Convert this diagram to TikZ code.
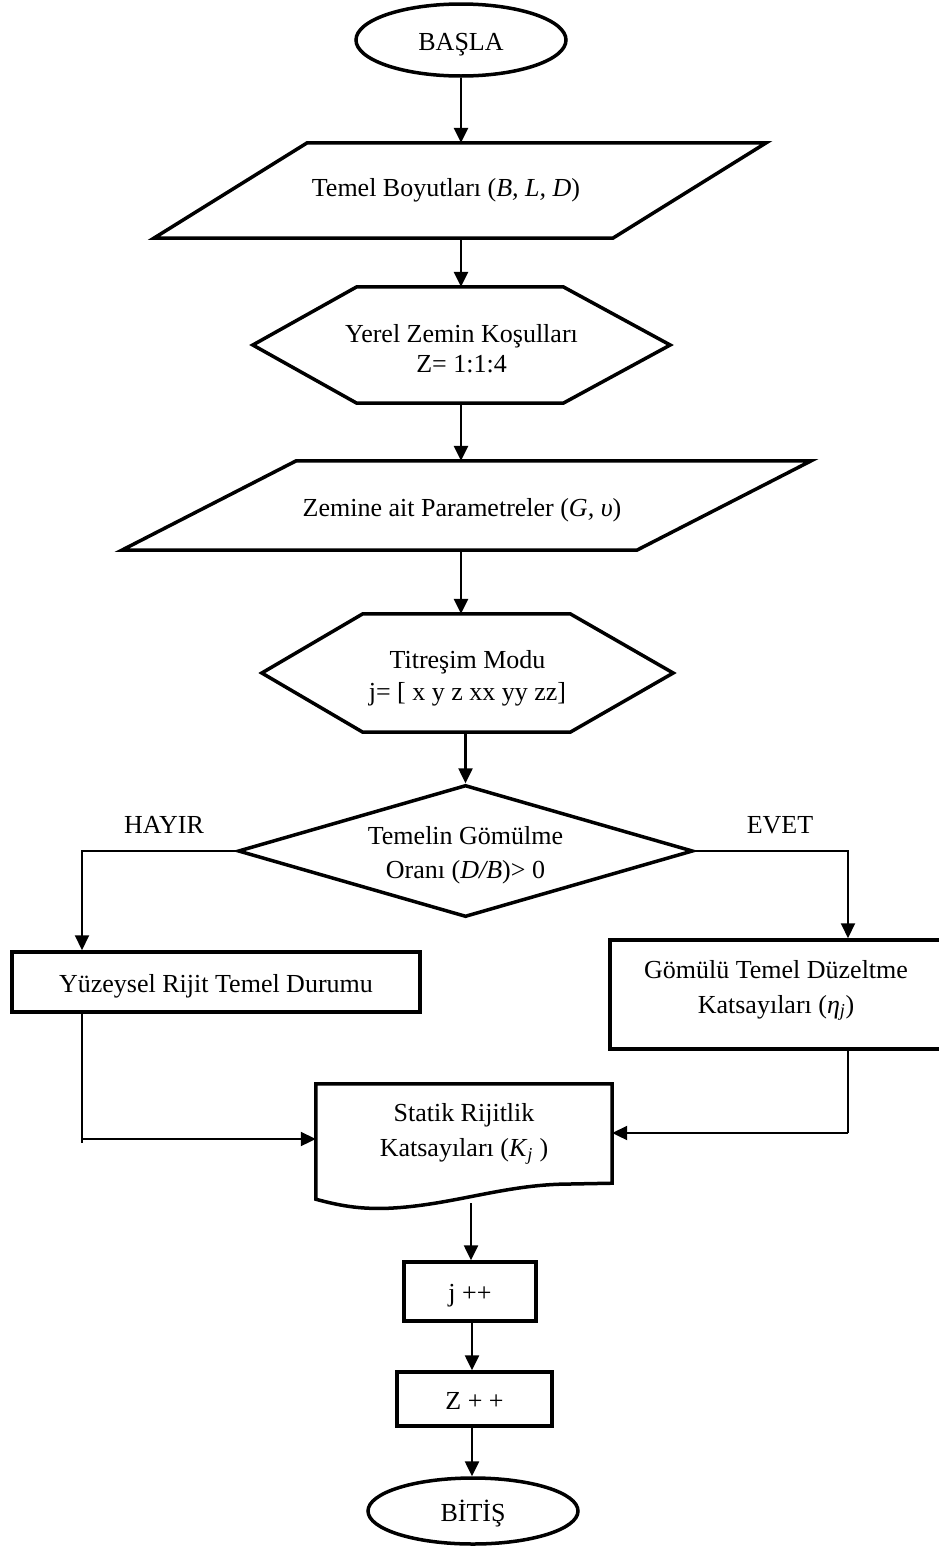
\documentclass[tikz,border=0pt]{standalone}
\usepackage{fontspec}
\setmainfont{Liberation Serif}
\usetikzlibrary{arrows.meta,shapes.geometric,calc}
\begin{document}
\begin{tikzpicture}[x=1pt,y=-1pt,
  shapeline/.style={line width=3.5pt, line join=miter},
  flow/.style={line width=2.5pt,-{Triangle[length=15pt,width=14pt]}},
  thinflow/.style={line width=2pt,-{Triangle[length=15pt,width=14pt]}},
  branch/.style={line width=1.6pt},
  txt/.style={font=\fontsize{26}{30}\selectfont, align=center, inner sep=0pt},
  oneline/.style={text height=24pt, text depth=4pt},
  boxnode/.style={draw, shapeline, txt},
]
\useasboundingbox (0,0) rectangle (938,1548);

% start
\node[boxnode, oneline, ellipse, minimum width=210pt, minimum height=72pt] (start) at (461,40) {BAŞLA};

% input 1
\node[txt, minimum width=612pt, minimum height=95pt] (p1) at (460,190.5) {};
\draw[shapeline] (p1.south west) -- ++(459,0) -- (p1.north east) -- ++(-459,0) -- cycle;
\node[txt] (p1t) at (446,190) {Temel Boyutları (\textit{B, L, D})};

% hexagon 1
\node[txt, minimum width=417pt, minimum height=116pt] (h1) at (461.5,345) {};
\draw[shapeline] (h1.west) -- ($(h1.north west)+(104,0)$) -- ($(h1.north east)+(-107,0)$) -- (h1.east)
  -- ($(h1.south east)+(-107,0)$) -- ($(h1.south west)+(104,0)$) -- cycle;
\node[txt] (h1t) at (461.5,349) {Yerel Zemin Koşulları\\Z= 1:1:4};

% input 2
\node[txt, minimum width=689pt, minimum height=89pt] (p2) at (466.5,505.5) {};
\draw[shapeline] (p2.south west) -- ++(515,0) -- (p2.north east) -- ++(-515,0) -- cycle;
\node[txt] (p2t) at (462,510) {Zemine ait Parametreler (\textit{G, υ})};

% hexagon 2
\node[txt, minimum width=411pt, minimum height=118pt] (h2) at (467.5,673) {};
\draw[shapeline] (h2.west) -- ($(h2.north west)+(101,0)$) -- ($(h2.north east)+(-103,0)$) -- (h2.east)
  -- ($(h2.south east)+(-103,0)$) -- ($(h2.south west)+(101,0)$) -- cycle;
\node[txt] (h2t) at (467.5,678) {Titreşim Modu\\[2pt]j= [ x y z xx yy zz]};

% decision
\node[draw, shapeline, diamond, aspect=3.5, inner sep=0pt, minimum width=455pt, minimum height=132pt] (d) at (465.5,851) {};
\node[txt] (dt) at (465.5,855) {Temelin Gömülme\\[4pt]Oranı (\textit{D/B})> 0};
\node[txt] (no) at (164,825) {HAYIR};
\node[txt] (yes) at (780,825) {EVET};

% left box
\node[boxnode, oneline, minimum width=408pt, minimum height=60pt] (lb) at (216,982) {Yüzeysel Rijit Temel Durumu};

% right box
\node[draw, shapeline, minimum width=340pt, minimum height=109pt] (rb) at (780,994.5) {};
\node[txt] (rbt) at (776,990.5) {Gömülü Temel Düzeltme\\[5pt]Katsayıları (\textit{η}\textsubscript{\textit{j}})};

% document
\node[minimum width=296pt, minimum height=99pt, inner sep=0pt] (doc) at (464,1133.5) {};
\draw[shapeline] (doc.south east) -- (doc.north east) -- (doc.north west) -- ($(doc.south west)+(0,16)$)
  .. controls ($(doc.south west)+(29,24)$) and ($(doc.south west)+(49,26)$) .. ($(doc.south west)+(74,25)$)
  .. controls ($(doc.south west)+(134,22)$) and ($(doc.south west)+(184,3)$) .. ($(doc.south west)+(244,1)$)
  -- cycle;
\node[txt] (doct) at (464,1134) {Statik Rijitlik\\[5pt]Katsayıları (\textit{K}\textsubscript{\textit{j}} )};

% counters
\node[boxnode, oneline, minimum width=132pt, minimum height=59pt] (jpp) at (470,1291.5) {j ++};
\node[boxnode, oneline, minimum width=155pt, minimum height=54pt] (zpp) at (474.5,1399) {Z + +};
\node[boxnode, oneline, ellipse, minimum width=210pt, minimum height=66pt] (stop) at (473,1511) {BİTİŞ};

% helper coordinates
\coordinate (spine) at (461,0);
\coordinate (lx) at (82,0);
\coordinate (rx) at (848,0);
\coordinate (lend) at (82,1143);
\coordinate (lin) at (82,1139);
\coordinate (rcorner) at (848,1133);
\coordinate (dout) at (471,1203);
\coordinate (sp2) at (472,0);

% connectors
\draw[flow] (start.south) -- (start.south |- p1.north);
\draw[flow] (spine |- p1.south) -- (spine |- h1.north);
\draw[flow] (spine |- h1.south) -- (spine |- p2.north);
\draw[flow] (spine |- p2.south) -- (spine |- h2.north);
\draw[flow] (d.north |- h2.south) -- (d.north);
\draw[thinflow] (d.west) -- (lx |- d.west) -- (lx |- lb.north);
\draw[thinflow] (d.east) -- (rx |- d.east) -- (rx |- rb.north);
\draw[branch] (lx |- lb.south) -- (lend);
\draw[thinflow] (lin) -- (lin -| doc.west);
\draw[branch] (rx |- rb.south) -- (rcorner);
\draw[thinflow] (rcorner) -- (rcorner -| doc.east);
\draw[flow] (dout) -- (dout |- jpp.north);
\draw[flow] (sp2 |- jpp.south) -- (sp2 |- zpp.north);
\draw[flow] (sp2 |- zpp.south) -- (sp2 |- stop.north);
\end{tikzpicture}
\end{document}
